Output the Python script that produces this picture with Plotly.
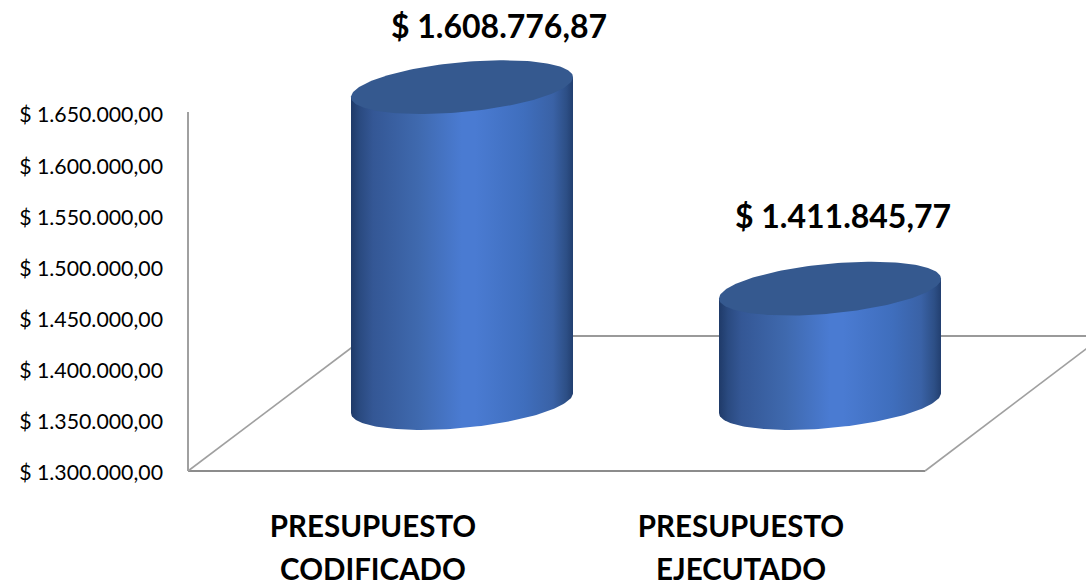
import numpy as np
import plotly.graph_objects as go

# ---- data ----
categories_line1 = ["PRESUPUESTO", "PRESUPUESTO"]
categories_line2 = ["CODIFICADO", "EJECUTADO"]
values = [1608776.87, 1411845.77]
value_labels = ["$ 1.608.776,87", "$ 1.411.845,77"]
tick_values = [1300000, 1350000, 1400000, 1450000, 1500000, 1550000, 1600000, 1650000]
tick_labels = ["$ 1.300.000,00", "$ 1.350.000,00", "$ 1.400.000,00", "$ 1.450.000,00",
               "$ 1.500.000,00", "$ 1.550.000,00", "$ 1.600.000,00", "$ 1.650.000,00"]

# ---- layout geometry (pixels) ----
W, H = 1086, 583
Y0_PX, Y1_PX = 470, 112
X_CAT0_PX, X_CAT1_PX = 373, 741
AXIS_X_PX = 188
ymin, ymax = tick_values[0], tick_values[-1]
K = (Y0_PX - Y1_PX) / (ymax - ymin)   # px per value unit
UX = X_CAT1_PX - X_CAT0_PX            # px per category

def X(px):
    return (px - X_CAT0_PX) / UX

def Y(px):
    return ymin + (Y0_PX - px) / K

DEPTH_DX, DEPTH_DY = 89, 67
HALF_W, ELL_B, ELL_S = 111, 25, 10
LABEL_DX = [37, 13]
LABEL_DY = [-57, -69]
LINE2_PX = 573
FLOOR_PX = 471

GRAD = [[0, "#1f3a68"], [0.04, "#2a4a80"], [0.1, "#345795"], [0.3, "#3f69ae"],
        [0.5, "#4a7bd2"], [0.56, "#4a7bd2"], [0.78, "#3f6ebd"], [0.91, "#3a62a6"],
        [0.97, "#2d4f86"], [1, "#223f70"]]
TOP_COLOR = "#35598f"
LINE_GREY = "#8c8c8c"

fig = go.Figure()

# floor and wall lines
lines = [
    ((AXIS_X_PX, FLOOR_PX), (AXIS_X_PX, Y1_PX), 2, "#a0a0a0"),
    ((AXIS_X_PX, FLOOR_PX), (925, FLOOR_PX), 2, LINE_GREY),
    ((AXIS_X_PX, FLOOR_PX), (367, 336), 1.6, "#a0a0a0"),
    ((925, FLOOR_PX), (1103, 336), 1.6, "#a0a0a0"),
    ((367, 336), (1103, 336), 2, "#9a9a9a"),
]
shapes = [dict(type="line", layer="below", x0=X(a[0]), y0=Y(a[1]), x1=X(b[0]), y1=Y(b[1]),
               line=dict(color=c, width=w)) for a, b, w, c in lines]

t = np.linspace(0, 2 * np.pi, 181)
for i, v in enumerate(values):
    cx_px = X_CAT0_PX + i * UX + DEPTH_DX
    base_px = Y0_PX - DEPTH_DY
    top_px = base_px - (v - ymin) * K
    ex = HALF_W * np.cos(t)
    ey = -ELL_S * np.cos(t) - ELL_B * np.sin(t)
    # body silhouette: top edge left to right, then lower half of base ellipse
    low = t[t >= np.pi]
    bx = HALF_W * np.cos(low)
    by = -ELL_S * np.cos(low) - ELL_B * np.sin(low)
    px = np.r_[cx_px + HALF_W, cx_px - HALF_W, cx_px + bx, cx_px + HALF_W]
    py = np.r_[top_px - ELL_S, top_px + ELL_S, base_px + by, top_px - ELL_S]
    fig.add_trace(go.Scatter(x=X(px), y=Y(py), mode="lines", line=dict(width=0),
                             fill="toself", fillgradient=dict(type="horizontal", colorscale=GRAD),
                             hoverinfo="skip", showlegend=False))
    fig.add_trace(go.Scatter(x=X(cx_px + ex), y=Y(top_px + ey), mode="lines", line=dict(width=0),
                             fill="toself", fillcolor=TOP_COLOR,
                             hoverinfo="skip", showlegend=False))
    fig.add_trace(go.Scatter(x=[X(cx_px + LABEL_DX[i])], y=[Y(top_px + LABEL_DY[i])],
                             mode="text", text=[value_labels[i]], textposition="middle center",
                             textfont=dict(family="Lato", size=32, color="#000000", weight="bold"),
                             hoverinfo="skip", showlegend=False))

xfont = dict(family="Lato", size=29.5, color="#000000", weight="bold")

# second line of the category labels
fig.add_trace(go.Scatter(x=[0, 1], y=[Y(LINE2_PX)] * 2, mode="text", text=categories_line2,
                         textposition="middle center", textfont=xfont,
                         hoverinfo="skip", showlegend=False))

x_range = [X(0), X(W)]
y_range = [Y(H), Y(0)]
xpos = (H - Y0_PX) / H
fig.update_layout(
    width=W, height=H, margin=dict(l=0, r=0, t=0, b=0), autosize=False,
    paper_bgcolor="#ffffff", plot_bgcolor="#ffffff", showlegend=False,
    font=dict(family="Lato", color="#000000"),
    shapes=shapes,
    xaxis=dict(range=x_range, tickmode="array", tickvals=[0, 1], ticktext=categories_line1,
               showgrid=False, zeroline=False, showline=False, ticks="", tickfont=xfont,
               anchor="free", position=xpos, domain=[0, 1], tickangle=0, automargin=False,
               ticklabelstandoff=36),
    yaxis=dict(range=y_range, domain=[0, 1], tickmode="array", tickvals=tick_values,
               ticktext=tick_labels, showgrid=False, zeroline=False, showline=False, ticks="",
               anchor="free", position=AXIS_X_PX / W, ticklabelstandoff=25, ticklabelshift=3,
               automargin=False, tickfont=dict(family="Lato", size=21.3, color="#000000")),
)
fig.write_html("out.html", config={"displayModeBar": False},
               post_script="document.body.style.margin='0';document.body.style.overflow='hidden';")
